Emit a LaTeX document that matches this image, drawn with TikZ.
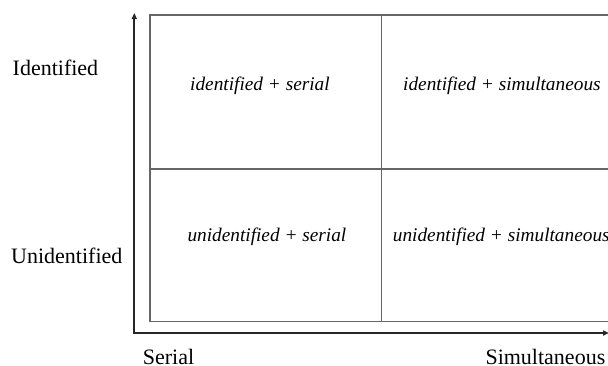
\documentclass[tikz,border=0pt]{standalone}
\usepackage{fontspec}
\setmainfont{Liberation Serif}
\usetikzlibrary{arrows.meta}
\begin{document}
\begin{tikzpicture}[x=1pt,y=-1pt,
  cellline/.style={draw=black!60, line width=1.1pt},
  axisline/.style={draw=black!85, line width=2pt, -{Triangle[length=6pt,width=5pt]}},
  axislabel/.style={inner sep=0pt, font=\fontsize{22}{26}\selectfont},
  celltext/.style={inner sep=0pt, font=\fontsize{19.3}{23}\selectfont\itshape}]
\useasboundingbox (0,0) rectangle (608,365);
\clip (0,0) rectangle (608,365);
% quadrant grid
\coordinate (tl) at (150,15);
\coordinate (br) at (640,321.5);
\coordinate (mt) at (381.7,15);
\coordinate (mb) at (381.7,321.5);
\coordinate (ml) at (150,169);
\coordinate (mr) at (640,169);
\draw[cellline] (tl) rectangle (br);
\draw[cellline] (mt) -- (mb);
\draw[cellline] (ml) -- (mr);
% axes
\coordinate (o) at (134.3,333);
\coordinate (ytip) at (134.3,13);
\coordinate (xtip) at (609,333);
\draw[axisline] ([yshift=1pt]o) -- (ytip);
\draw[axisline] ([xshift=-1pt]o) -- (xtip);
% axis labels
\node[axislabel, anchor=base west] (lid) at (12.5,75.5) {Identified};
\node[axislabel, anchor=base west] (lun) at (11,263.3) {Unidentified};
\node[axislabel, anchor=base west] (lse) at (142.7,364) {Serial};
\node[axislabel, anchor=base east] (lsi) at (605.5,364) {Simultaneous};
% cell texts
\node[celltext, anchor=base west] (c1) at (190,90.5) {identified + serial};
\node[celltext, anchor=base west] (c2) at (403,90.5) {identified + simultaneous};
\node[celltext, anchor=base west] (c3) at (187.3,241.7) {unidentified + serial};
\node[celltext, anchor=base west] (c4) at (392.7,241.7) {unidentified + simultaneous};
\end{tikzpicture}
\end{document}
